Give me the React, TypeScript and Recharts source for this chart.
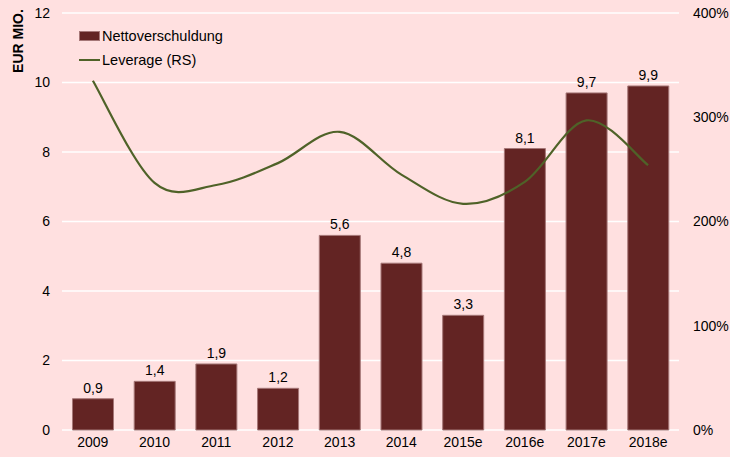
import React from 'react';
import {
  ComposedChart,
  Bar,
  Line,
  XAxis,
  YAxis,
  CartesianGrid,
  LabelList,
} from 'recharts';

const categories = ['2009', '2010', '2011', '2012', '2013', '2014', '2015e', '2016e', '2017e', '2018e'];
const nettoverschuldung = [0.9, 1.4, 1.9, 1.2, 5.6, 4.8, 3.3, 8.1, 9.7, 9.9];
const leverage = [3.35, 2.37, 2.35, 2.56, 2.86, 2.45, 2.17, 2.38, 2.97, 2.54];
const leftTicks = [0, 2, 4, 6, 8, 10, 12];
const rightTicks = [0, 1, 2, 3, 4];
const seriesNames = ['Nettoverschuldung', 'Leverage (RS)'];

const data = categories.map((c, i) => ({
  year: c,
  netto: nettoverschuldung[i],
  lev: leverage[i],
}));

const FONT = 'Liberation Sans, Arial, sans-serif';
const BAR_COLOR = '#632423';
const BAR_STROKE = '#a57777';
const LINE_COLOR = '#4F6228';

// Excel-like smoothed line (Catmull-Rom style Bezier)
const excelCurve = (context: any) => {
  let pts: number[][] = [];
  return {
    areaStart() {},
    areaEnd() {},
    lineStart() {
      pts = [];
    },
    point(x: number, y: number) {
      pts.push([+x, +y]);
    },
    lineEnd() {
      if (!pts.length) return;
      context.moveTo(pts[0][0], pts[0][1]);
      for (let i = 0; i < pts.length - 1; i++) {
        const p0 = pts[i - 1] || pts[i];
        const p1 = pts[i];
        const p2 = pts[i + 1];
        const p3 = pts[i + 2] || pts[i + 1];
        const c1x = p1[0] + (p2[0] - p0[0]) / 6;
        const c1y = p1[1] + (p2[1] - p0[1]) / 6;
        const c2x = p2[0] - (p3[0] - p1[0]) / 6;
        const c2y = p2[1] - (p3[1] - p1[1]) / 6;
        context.bezierCurveTo(c1x, c1y, c2x, c2y, p2[0], p2[1]);
      }
    },
  };
};

const LegendBox = () => (
  <div style={{ position: 'absolute', left: 79, top: 24, fontFamily: FONT, fontSize: 14.5, color: '#000', lineHeight: '24px' }}>
    <div style={{ display: 'flex', alignItems: 'center', height: 24 }}>
      <span style={{ display: 'inline-block', width: 19, height: 8, background: BAR_COLOR, border: `1px solid ${BAR_STROKE}`, marginRight: 2 }} />
      <span>{seriesNames[0]}</span>
    </div>
    <div style={{ display: 'flex', alignItems: 'center', height: 24 }}>
      <span style={{ display: 'inline-block', width: 21, height: 2, background: LINE_COLOR, marginRight: 2 }} />
      <span>{seriesNames[1]}</span>
    </div>
  </div>
);

const YLabel = () => (
  <text
    x={18}
    y={41}
    transform="rotate(-90 18 41)"
    textAnchor="middle"
    dominantBaseline="central"
    fontFamily={FONT}
    fontSize={14}
    fontWeight="bold"
    fill="#000"
  >
    EUR MIO.
  </text>
);

export default function App() {
  return (
    <div style={{ position: 'absolute', left: 0, top: 0, width: 730, height: 457, background: '#FFE0E0' }}>
      <ComposedChart
        width={730}
        height={457}
        data={data}
        margin={{ top: 13, right: 0, bottom: 0, left: 0 }}
        barCategoryGap="17%"
      >
        <CartesianGrid horizontal vertical={false} stroke="#FFFFFF" strokeWidth={1.5} yAxisId="left" />
        <XAxis
          dataKey="year"
          height={27}
          axisLine={false}
          tickLine={false}
          tickSize={0}
          tickMargin={7}
          interval={0}
          tick={{ fontFamily: FONT, fontSize: 14, fill: '#000' }}
        />
        <YAxis
          yAxisId="left"
          orientation="left"
          width={62}
          domain={[0, 12]}
          ticks={leftTicks}
          axisLine={false}
          tickLine={false}
          tickSize={0}
          tickMargin={12}
          tick={{ fontFamily: FONT, fontSize: 14, fill: '#000' }}
          label={<YLabel />}
        />
        <YAxis
          yAxisId="right"
          orientation="right"
          width={51}
          domain={[0, 4]}
          ticks={rightTicks}
          axisLine={false}
          tickLine={false}
          tickSize={0}
          tickMargin={14}
          tickFormatter={(v: number) => `${Math.round(v * 100)}%`}
          tick={{ fontFamily: FONT, fontSize: 14, fill: '#000', textAnchor: 'start' }}
        />
        <Bar
          yAxisId="left"
          dataKey="netto"
          name={seriesNames[0]}
          fill={BAR_COLOR}
          stroke={BAR_STROKE}
          strokeWidth={1}
          isAnimationActive={false}
        >
          <LabelList
            dataKey="netto"
            position="top"
            offset={6}
            formatter={(v: number) => String(v).replace('.', ',')}
            style={{ fontFamily: FONT, fontSize: 14, fill: '#000' }}
          />
        </Bar>
        <Line
          yAxisId="right"
          dataKey="lev"
          name={seriesNames[1]}
          type={excelCurve as any}
          stroke={LINE_COLOR}
          strokeWidth={2.2}
          dot={false}
          activeDot={false}
          isAnimationActive={false}
        />
      </ComposedChart>
      <LegendBox />
    </div>
  );
}
